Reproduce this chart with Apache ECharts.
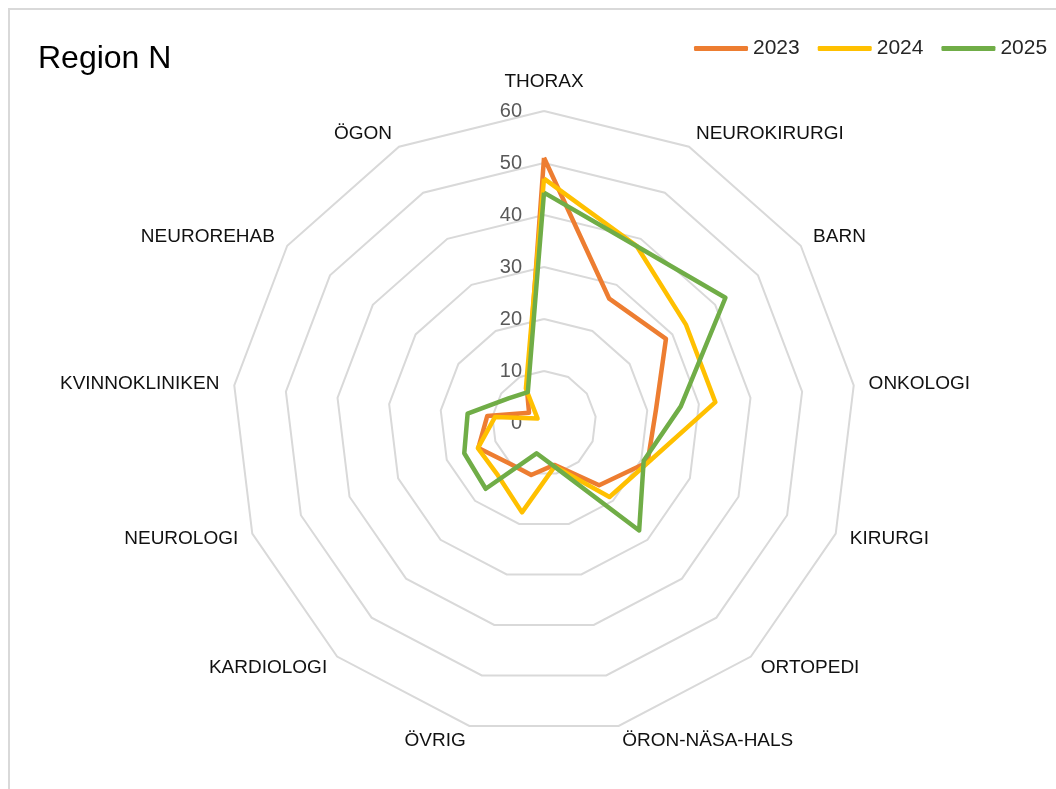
<!DOCTYPE html>
<html><head><meta charset="utf-8">
<script src="https://cdn.jsdelivr.net/npm/echarts@6/dist/echarts.min.js"></script>
<style>
html,body{margin:0;padding:0;background:#fff;overflow:hidden;width:1056px;height:789px}
#frame{position:absolute;left:8px;top:8px;width:1200px;height:1000px;border:2px solid #d9d9d9;box-sizing:border-box}
#chart{position:absolute;left:0;top:0;width:1056px;height:789px}
</style></head>
<body><div id="frame"></div><div id="chart"></div>
<script>
const categories = ['THORAX','NEUROKIRURGI','BARN','ONKOLOGI','KIRURGI','ORTOPEDI','ÖRON-NÄSA-HALS','ÖVRIG','KARDIOLOGI','NEUROLOGI','KVINNOKLINIKEN','NEUROREHAB','ÖGON'];
const seriesNames = ['2023','2024','2025'];
const values2023 = [51, 27, 28.5, 21.7, 21.3, 16, 8.3, 10.3, 10.3, 13.5, 11, 3.5, 7];
const values2024 = [47, 38.4, 33.2, 33.2, 21.4, 19, 8.6, 17.7, 13.4, 13.6, 9.5, 1.5, 7.5];
const values2025 = [44.3, 38.4, 42.4, 26.5, 20.5, 27.6, 8.7, 6, 16.9, 16.4, 14.8, 8.3, 6.7];
const axisMin = 0, axisMax = 60, axisSplits = 6;
const colors = ['#ED7D31', '#FFC000', '#70AD47'];
const titleText = 'Region N';

const FONT = 'Liberation Sans';
// ECharts radar runs counter-clockwise; reorder so categories run clockwise like the reference
const order = [0].concat(categories.map((_, i) => i).slice(1).reverse());
const indicator = order.map((i, k) => {
  const ind = { name: categories[i], min: axisMin, max: axisMax };
  if (k === 0) ind.axisLabel = { show: true, color: '#595959', fontSize: 20, fontFamily: FONT, margin: 22 };
  return ind;
});
const allValues = [values2023, values2024, values2025];

const chart = echarts.init(document.getElementById('chart'));
chart.setOption({
  animation: false,
  title: { text: titleText, left: 33, top: 38, textStyle: { fontFamily: FONT, fontSize: 32, fontWeight: 'normal', color: '#000' } },
  legend: {
    data: seriesNames, left: 694, top: 38, width: 420, padding: 0, itemGap: 18, itemWidth: 54, itemHeight: 5, icon: 'roundRect',
    textStyle: { fontFamily: FONT, fontSize: 21, color: '#262626' }
  },
  color: colors,
  radar: {
    center: [544, 423], radius: 312, startAngle: 90, splitNumber: axisSplits, shape: 'polygon',
    indicator: indicator,
    nameGap: 15,
    axisName: {
      color: '#111', fontSize: 19, fontFamily: FONT, verticalAlign: 'middle',
      formatter: (n) => n === categories[0] ? '{top|' + n + '}' : n,
      rich: { top: { fontSize: 19, fontFamily: FONT, color: '#111', padding: [0, 0, 28, 0] } }
    },
    axisLine: { show: false }, axisTick: { show: false }, axisLabel: { show: false },
    splitLine: { lineStyle: { color: '#d9d9d9', width: 2 } },
    splitArea: { show: false }
  },
  series: seriesNames.map((name, s) => ({
    type: 'radar', name: name, symbol: 'none',
    lineStyle: { width: 4.5, color: colors[s], join: 'round' },
    itemStyle: { color: colors[s] },
    data: [{ name: name, value: order.map(i => allValues[s][i]) }]
  }))
});
</script></body></html>
